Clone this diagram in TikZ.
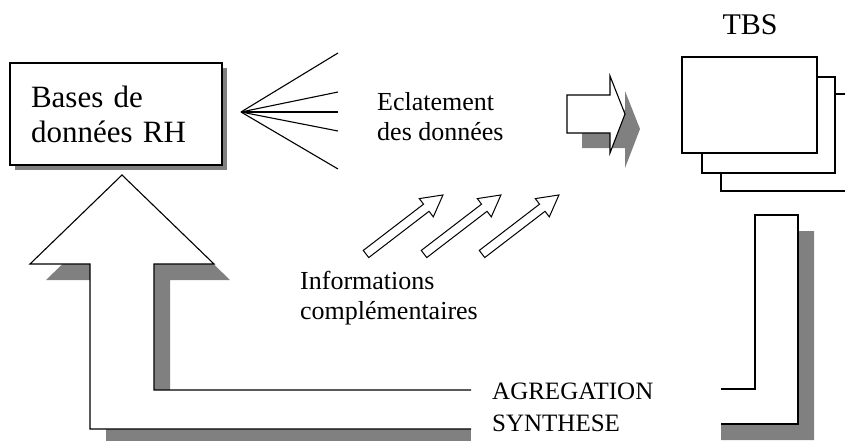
\documentclass[tikz,border=0pt]{standalone}
\usepackage{fontspec}
\setmainfont{Liberation Serif}
\usetikzlibrary{shadows}
\definecolor{shadowgray}{HTML}{808080}
\begin{document}
\begin{tikzpicture}[x=1pt,y=-1pt, line join=miter,
  outl/.style={draw=black, line width=1.1pt},
  lbl/.style={inner sep=0pt, anchor=base west, align=left},
  sheet/.style={draw=black, line width=1.1pt, fill=white, inner sep=0pt},
  hollow/.style={draw=black, line width=1pt, fill=white},
]
\useasboundingbox (0,0) rectangle (845,441);
\clip (0,0) rectangle (845,441);

% ---- TBS stacked sheets
\node[sheet, minimum width=149pt, minimum height=97pt] (tbs3) at (795.5,142.5) {};
\node[sheet, minimum width=133pt, minimum height=96pt] (tbs2) at (768.5,125) {};
\node[sheet, minimum width=135pt, minimum height=96pt] (tbs1) at (749.5,105) {};
\node[anchor=base, inner sep=0pt, font=\fontsize{30}{34}\selectfont] (tbs) at (750,35) {TBS};

% ---- big return arrow: shadows
\fill[shadowgray, shift={(16,16)}] (600,390) -- (154,390) -- (154,264) -- (214,264) -- (122,175) -- (30,264) -- (90,264) -- (90,429) -- (600,429) -- cycle;
\fill[shadowgray, shift={(16,16)}] (600,389) -- (755,389) -- (755,215) -- (798,215) -- (798,424) -- (600,424) -- cycle;
% white bodies
\fill[white] (600,390) -- (154,390) -- (154,264) -- (214,264) -- (122,175) -- (30,264) -- (90,264) -- (90,429) -- (600,429) -- cycle;
\fill[white] (600,389) -- (755,389) -- (755,215) -- (798,215) -- (798,424) -- (600,424) -- cycle;
% gap behind the label
\fill[white] (471,372) rectangle (721,441);
% outlines
\coordinate (uli) at (471,390);
\coordinate (ulo) at (471,429);
\coordinate (uri) at (721,389);
\coordinate (uro) at (721,424);
\draw[outl] (uli) -- (154,390) -- (154,264) -- (214,264) -- (122,175) -- (30,264) -- (90,264) -- (90,429) -- (ulo);
\draw[outl] (uri) -- (755,389) -- (755,215) -- (798,215) -- (798,424) -- (uro);
\node[lbl, font=\fontsize{25}{32}\selectfont] (agr) at (492,431) {AGREGATION\\SYNTHESE};

% ---- database box
\node[draw=black, line width=1.1pt, fill=white, minimum width=212pt, minimum height=102pt,
      text width=170pt, inner xsep=21pt, align=left,
      font=\fontsize{31}{35}\selectfont,
      drop shadow={shadow xshift=5pt, shadow yshift=-5pt, fill=shadowgray, opacity=1}] (db) at (116,114)
      {Bases de\\données RH};

% ---- fan of lines
\coordinate (fan) at (241,112);
\coordinate (f1) at (338,53);
\coordinate (f2) at (338,92);
\coordinate (f3) at (338,112);
\coordinate (f4) at (338,131);
\coordinate (f5) at (338,169);
\foreach \e in {f1,f2,f3,f4,f5} \draw[line width=1.1pt] (fan) -- (\e);

\node[lbl, font=\fontsize{26}{30}\selectfont] (ecl) at (377,140) {Eclatement\\des données};

% ---- block arrow (eclatement)
\fill[shadowgray, shift={(15,15)}] (567,95) -- (610,95) -- (610,76) -- (625,114) -- (610,153) -- (610,133) -- (567,133) -- cycle;
\draw[outl, fill=white] (567,95) -- (610,95) -- (610,76) -- (625,114) -- (610,153) -- (610,133) -- (567,133) -- cycle;

% ---- small hollow arrows
\foreach \tx in {366,424,482} {
  \begin{scope}[shift={(\tx,254)}, rotate=37.5]
    \draw[hollow] (0,-4.5) -- (76,-4.5) -- (76,-11.5) -- (97,0) -- (76,11.5) -- (76,4.5) -- (0,4.5) -- cycle;
  \end{scope}
}
\node[lbl, font=\fontsize{26}{30}\selectfont] (info) at (300,319) {Informations\\complémentaires};

\end{tikzpicture}
\end{document}
